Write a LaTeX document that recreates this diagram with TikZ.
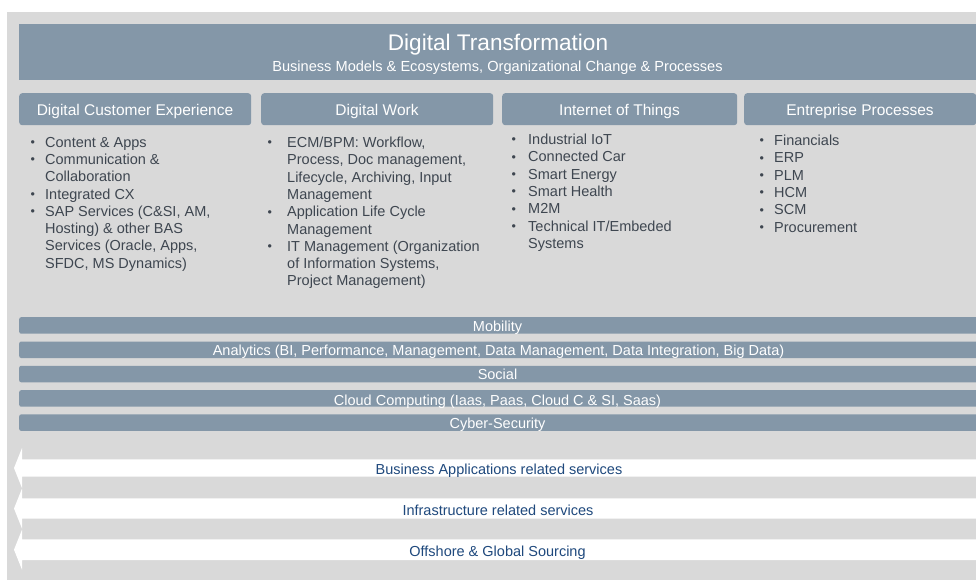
\documentclass[tikz,border=0pt]{standalone}
\usepackage{fontspec}
\setmainfont{Liberation Sans}
\definecolor{barc}{RGB}{132,151,168}
\definecolor{bgc}{RGB}{217,217,217}
\definecolor{txtc}{RGB}{62,70,80}
\definecolor{navy}{RGB}{31,73,125}
\newcommand{\bdot}{\raisebox{0.6pt}{\fontsize{12.5}{10}\selectfont •}}
\newcommand{\bl}[2]{\makebox[#1][l]{\bdot}#2}
\newcommand{\cl}[2]{\hspace*{#1}#2}
\begin{document}
\begin{tikzpicture}[x=1pt,y=-1pt,
  panel/.style={fill=barc, draw=none, rounded corners=3pt, inner sep=0pt, anchor=north west},
  headtxt/.style={text=white, font=\fontsize{15.5}{18}\selectfont, anchor=base, inner sep=0pt},
  bartxt/.style={text=white, font=\fontsize{14.5}{16}\selectfont, anchor=base, inner sep=0pt},
  arrtxt/.style={text=navy, font=\fontsize{14.5}{17}\selectfont, anchor=base, inner sep=0pt},
  listtxt/.style={text=txtc, font=\fontsize{14.5}{17.3}\selectfont, align=left, anchor=north west, inner sep=0pt},
  arrowband/.style={fill=white}]
\useasboundingbox (0,0) rectangle (976,579);
\fill[bgc] (7,12) rectangle (990,590);
% header
\node[panel, rounded corners=0pt, minimum width=970pt, minimum height=56pt] (hdr) at (19,24) {};
\node[text=white, font=\fontsize{22.6}{26}\selectfont, anchor=base, inner sep=0pt] (title) at (498,50) {Digital Transformation};
\node[text=white, font=\fontsize{14.6}{16}\selectfont, anchor=base, inner sep=0pt] (subtitle) at (497.5,71.7) {Business Models \& Ecosystems, Organizational Change \& Processes};
% category heads
\node[panel, minimum width=232pt, minimum height=32pt] (h1) at (19,93) {};
\node[panel, minimum width=232pt, minimum height=32pt] (h2) at (261,93) {};
\node[panel, minimum width=235pt, minimum height=32pt] (h3) at (502,93) {};
\node[panel, minimum width=232pt, minimum height=32pt] (h4) at (744,93) {};
\node[headtxt] (t1) at (135,115) {Digital Customer Experience};
\node[headtxt] (t2) at (377,115) {Digital Work};
\node[headtxt] (t3) at (619.5,115) {Internet of Things};
\node[headtxt] (t4) at (860,115) {Entreprise Processes};
% lists
\node[listtxt] (l1) at (30.5,136.8) {%
\bl{14.5pt}{Content \& Apps}\\
\bl{14.5pt}{Communication \&}\\
\cl{14.5pt}{Collaboration}\\
\bl{14.5pt}{Integrated CX}\\
\bl{14.5pt}{SAP Services (C\&SI, AM,}\\
\cl{14.5pt}{Hosting) \& other BAS}\\
\cl{14.5pt}{Services (Oracle, Apps,}\\
\cl{14.5pt}{SFDC, MS Dynamics)}};
\node[listtxt] (l2) at (267.5,136.8) {%
\bl{19.5pt}{ECM/BPM: Workflow,}\\
\cl{19.5pt}{Process, Doc management,}\\
\cl{19.5pt}{Lifecycle, Archiving, Input}\\
\cl{19.5pt}{Management}\\
\bl{19.5pt}{Application Life Cycle}\\
\cl{19.5pt}{Management}\\
\bl{19.5pt}{IT Management (Organization}\\
\cl{19.5pt}{of Information Systems,}\\
\cl{19.5pt}{Project Management)}};
\node[listtxt] (l3) at (511.5,133.8) {%
\bl{16.5pt}{Industrial IoT}\\
\bl{16.5pt}{Connected Car}\\
\bl{16.5pt}{Smart Energy}\\
\bl{16.5pt}{Smart Health}\\
\bl{16.5pt}{M2M}\\
\bl{16.5pt}{Technical IT/Embeded}\\
\cl{16.5pt}{Systems}};
\node[listtxt] (l4) at (759.5,134.8) {%
\bl{14.5pt}{Financials}\\
\bl{14.5pt}{ERP}\\
\bl{14.5pt}{PLM}\\
\bl{14.5pt}{HCM}\\
\bl{14.5pt}{SCM}\\
\bl{14.5pt}{Procurement}};
% horizontal bars
\node[panel, rounded corners=2pt, minimum width=970pt, minimum height=16.5pt] (b1) at (19,317) {};
\node[panel, rounded corners=2pt, minimum width=970pt, minimum height=16.5pt] (b2) at (19,341.3) {};
\node[panel, rounded corners=2pt, minimum width=970pt, minimum height=16.5pt] (b3) at (19,365.6) {};
\node[panel, rounded corners=2pt, minimum width=970pt, minimum height=16.5pt] (b4) at (19,390) {};
\node[panel, rounded corners=2pt, minimum width=970pt, minimum height=16.5pt] (b5) at (19,414.2) {};
\node[bartxt] (bt1) at (497.5,331) {Mobility};
\node[bartxt] (bt2) at (498.5,355) {Analytics (BI, Performance, Management, Data Management, Data Integration, Big Data)};
\node[bartxt] (bt3) at (497.5,379) {Social};
\node[bartxt] (bt4) at (497.5,405) {Cloud Computing (Iaas, Paas, Cloud C \& SI, Saas)};
\node[bartxt] (bt5) at (497.5,428.3) {Cyber-Security};
% arrows
\fill[arrowband] (990,459.3) -- (22,459.3) -- (22,448) -- (14,468) -- (22,488) -- (22,476.7) -- (990,476.7) -- cycle;
\fill[arrowband] (990,498.3) -- (22,498.3) -- (22,488.5) -- (14,508.5) -- (22,528.5) -- (22,518.7) -- (990,518.7) -- cycle;
\fill[arrowband] (990,539.3) -- (22,539.3) -- (22,529.7) -- (14,549.7) -- (22,569.7) -- (22,560) -- (990,560) -- cycle;
\node[arrtxt] (a1) at (499,474) {Business Applications related services};
\node[arrtxt] (a2) at (498,515.7) {Infrastructure related services};
\node[arrtxt] (a3) at (497.5,556) {Offshore \& Global Sourcing};
\end{tikzpicture}
\end{document}
